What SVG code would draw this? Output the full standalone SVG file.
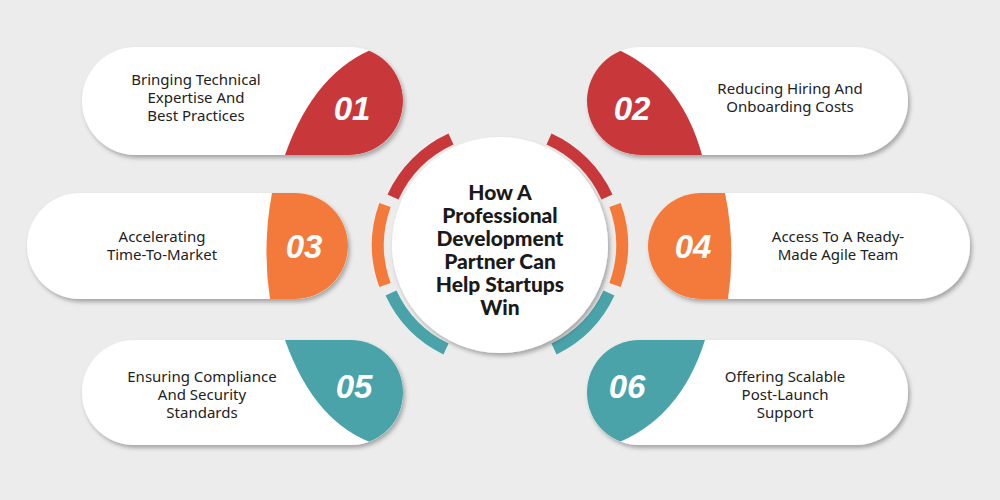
<svg xmlns="http://www.w3.org/2000/svg" width="1000" height="500" viewBox="0 0 1000 500">
<defs>
<style>
.pill{fill:#fff}
.lbl{font-family:"Noto Sans","Liberation Sans",sans-serif;font-size:15px;fill:#222;text-anchor:middle}
.num{font-family:"Liberation Sans",sans-serif;font-size:33px;font-weight:bold;font-style:italic;fill:#fff;text-anchor:middle}
.ttl{font-family:Lato,"Liberation Sans",sans-serif;font-size:21px;font-weight:900;fill:#1a1a1a;text-anchor:middle}
.arc{fill:none;stroke-width:12}
</style>
<filter id="sh" x="-10%" y="-20%" width="120%" height="150%"><feDropShadow dx="2" dy="3" stdDeviation="2" flood-color="#000" flood-opacity="0.3"/></filter>
<clipPath id="c1"><rect x="82" y="47" width="321" height="108" rx="54"/></clipPath>
<clipPath id="c2"><rect x="587" y="47" width="321" height="108" rx="54"/></clipPath>
<clipPath id="c3"><rect x="27" y="193" width="321" height="106" rx="53"/></clipPath>
<clipPath id="c4"><rect x="648" y="193" width="322" height="106" rx="53"/></clipPath>
<clipPath id="c5"><rect x="82" y="340" width="321" height="105" rx="52"/></clipPath>
<clipPath id="c6"><rect x="587" y="340" width="321" height="105" rx="52"/></clipPath>
</defs>
<rect width="1000" height="500" fill="#ececec"/>
<g id="connectors">
<path class="arc" stroke="#c8383b" d="M393,197 A117,117 0 0 1 451,139"/>
<path class="arc" stroke="#c8383b" d="M549,139 A117,117 0 0 1 607,197"/>
<path class="arc" stroke="#f47a3c" d="M385,205 A117,117 0 0 0 385,285"/>
<path class="arc" stroke="#f47a3c" d="M615,205 A117,117 0 0 1 615,285"/>
<path class="arc" stroke="#4ba3aa" d="M391,293 A117,117 0 0 0 446,349"/>
<path class="arc" stroke="#4ba3aa" d="M609,293 A117,117 0 0 1 554,349"/>
</g>
<g id="center"><circle cx="500" cy="245" r="108" fill="#fff" filter="url(#sh)"/>
<text class="ttl"><tspan x="500" y="200">How A</tspan><tspan x="500" y="223">Professional</tspan><tspan x="500" y="246">Development</tspan><tspan x="500" y="269">Partner Can</tspan><tspan x="500" y="292">Help Startups</tspan><tspan x="500" y="315">Win</tspan></text></g>
<g id="n01"><rect class="pill" x="82" y="47" width="321" height="108" rx="54" filter="url(#sh)"/>
<path clip-path="url(#c1)" fill="#c8383b" d="M285,155 Q315,70 378,47 L410,47 L410,155Z"/>
<text class="lbl"><tspan x="196" y="85">Bringing Technical</tspan><tspan x="196" y="103">Expertise And</tspan><tspan x="196" y="121">Best Practices</tspan></text>
<text class="num" x="352" y="120">01</text></g>
<g id="n02"><rect class="pill" x="587" y="47" width="321" height="108" rx="54" filter="url(#sh)"/>
<path clip-path="url(#c2)" fill="#c8383b" d="M612,47 Q680,75 702,155 L580,155 L580,47Z"/>
<text class="lbl"><tspan x="790" y="94">Reducing Hiring And</tspan><tspan x="790" y="112">Onboarding Costs</tspan></text>
<text class="num" x="632" y="120">02</text></g>
<g id="n03"><rect class="pill" x="27" y="193" width="321" height="106" rx="53" filter="url(#sh)"/>
<path clip-path="url(#c3)" fill="#f47a3c" d="M272,193 Q262,246 270,299 L355,299 L355,193Z"/>
<text class="lbl"><tspan x="162" y="242">Accelerating</tspan><tspan x="162" y="260">Time-To-Market</tspan></text>
<text class="num" x="304" y="258">03</text></g>
<g id="n04"><rect class="pill" x="648" y="193" width="322" height="106" rx="53" filter="url(#sh)"/>
<path clip-path="url(#c4)" fill="#f47a3c" d="M725,193 Q736,246 728,299 L640,299 L640,193Z"/>
<text class="lbl"><tspan x="838" y="242">Access To A Ready-</tspan><tspan x="838" y="260">Made Agile Team</tspan></text>
<text class="num" x="693" y="258">04</text></g>
<g id="n05"><rect class="pill" x="82" y="340" width="321" height="105" rx="52" filter="url(#sh)"/>
<path clip-path="url(#c5)" fill="#4ba3aa" d="M285,340 Q315,425 378,445 L410,445 L410,340Z"/>
<text class="lbl"><tspan x="202" y="382">Ensuring Compliance</tspan><tspan x="202" y="400">And Security</tspan><tspan x="202" y="418">Standards</tspan></text>
<text class="num" x="354" y="398">05</text></g>
<g id="n06"><rect class="pill" x="587" y="340" width="321" height="105" rx="52" filter="url(#sh)"/>
<path clip-path="url(#c6)" fill="#4ba3aa" d="M612,445 Q680,420 705,340 L580,340 L580,445Z"/>
<text class="lbl"><tspan x="785" y="382">Offering Scalable</tspan><tspan x="785" y="400">Post-Launch</tspan><tspan x="785" y="418">Support</tspan></text>
<text class="num" x="627" y="398">06</text></g>
</svg>
